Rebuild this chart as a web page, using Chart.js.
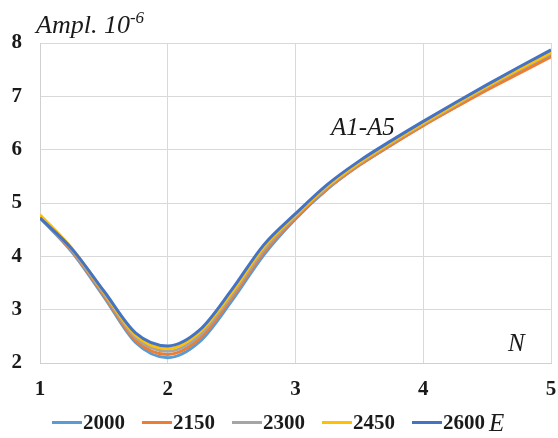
<!DOCTYPE html>
<html>
<head>
<meta charset="utf-8">
<script src="https://cdn.jsdelivr.net/npm/chart.js@4.4.1/dist/chart.umd.min.js"></script>
<style>
body{margin:0;background:#fff;}
#wrap{position:relative;width:558px;height:438px;}
.lbl{position:absolute;font-family:"Liberation Serif","Times New Roman",serif;font-style:italic;color:#1a1a1a;white-space:nowrap;line-height:1;}
#legend{position:absolute;left:52px;top:411px;height:22px;display:flex;align-items:center;
    font-family:"Liberation Serif","Times New Roman",serif;font-weight:bold;font-size:21px;color:#1a1a1a;line-height:1;}
#legend .item{display:flex;align-items:center;margin-right:17px;}
#legend .bar{width:30px;height:3px;margin-right:1px;}
</style>
</head>
<body>
<div id="wrap">
    <canvas id="chart" width="558" height="438"></canvas>
    <span class="lbl" style="left:36px;top:12px;font-size:26px">Ampl. 10<span style="font-size:17px;position:relative;top:-10px">-6</span></span>
    <span class="lbl" style="left:331px;top:114px;font-size:25px">A1-A5</span>
    <span class="lbl" style="left:508px;top:330px;font-size:25px">N</span>
    <div id="legend"></div>
</div>
<script>
// valores
const nValues = [1, 1.25, 1.5, 1.75, 2, 2.25, 2.5, 2.75, 3, 3.25, 3.5, 3.75, 4, 4.25, 4.5, 4.75, 5];
const seriesLabels = ['2000', '2150', '2300', '2450', '2600'];
const e2000 = [4.72, 4.08, 3.24, 2.38, 2.10, 2.40, 3.16, 4.02, 4.70, 5.26, 5.71, 6.09, 6.46, 6.80, 7.14, 7.46, 7.77];
const e2150 = [4.73, 4.10, 3.27, 2.42, 2.16, 2.46, 3.22, 4.07, 4.72, 5.27, 5.71, 6.09, 6.45, 6.79, 7.12, 7.43, 7.74];
const e2300 = [4.74, 4.12, 3.30, 2.47, 2.22, 2.52, 3.27, 4.12, 4.75, 5.30, 5.74, 6.12, 6.48, 6.83, 7.17, 7.49, 7.80];
const e2450 = [4.78, 4.15, 3.33, 2.52, 2.27, 2.58, 3.32, 4.17, 4.77, 5.32, 5.76, 6.14, 6.50, 6.85, 7.19, 7.51, 7.82];
const e2600 = [4.72, 4.14, 3.35, 2.56, 2.32, 2.62, 3.37, 4.21, 4.80, 5.35, 5.79, 6.17, 6.53, 6.88, 7.22, 7.55, 7.87];
const xTicks = [1, 2, 3, 4, 5];
const yTicks = [2, 3, 4, 5, 6, 7, 8];

const allSeries = [e2000, e2150, e2300, e2450, e2600];
const colors = ['#5B9BD5', '#ED7D31', '#A5A5A5', '#FFC000', '#4472C4'];

const datasets = allSeries.map((vals, i) => ({
    label: seriesLabels[i],
    data: vals.map((v, k) => ({x: nValues[k], y: v})),
    borderColor: colors[i],
    backgroundColor: colors[i],
    borderWidth: 3,
    pointRadius: 0,
    cubicInterpolationMode: 'monotone',
    order: allSeries.length - 1 - i
}));

// leyenda
const legend = document.getElementById('legend');
seriesLabels.forEach((lab, i) => {
    const it = document.createElement('div');
    it.className = 'item';
    it.innerHTML = `<span class="bar" style="background:${colors[i]}"></span><span>${lab}</span>`;
    legend.appendChild(it);
});
const e = document.createElement('span');
e.textContent = 'E';
e.style.cssText = 'font-style:italic;font-weight:normal;font-size:25px;margin-left:-13px;';
legend.appendChild(e);

const tickFont = {family: '"Liberation Serif", "Times New Roman", serif', size: 21, weight: 'bold'};

new Chart(document.getElementById('chart'), {
    type: 'line',
    data: {datasets},
    options: {
        responsive: false,
        animation: false,
        layout: {padding: {left: 0, right: 7, top: 43, bottom: 40}},
        plugins: {
            tooltip: {enabled: false},
            legend: {display: false}
        },
        scales: {
            x: {
                type: 'linear',
                min: 1, max: 5,
                afterBuildTicks: s => { s.ticks = xTicks.map(v => ({value: v})); },
                ticks: {font: tickFont, color: '#1a1a1a', padding: 14, maxRotation: 0},
                grid: {color: '#d9d9d9', drawTicks: false},
                border: {color: '#d0d0d0'},
                afterFit: s => { s.height = 35; s.paddingLeft = 0; s.paddingRight = 0; }
            },
            y: {
                min: 2, max: 8,
                afterBuildTicks: s => { s.ticks = yTicks.map(v => ({value: v})); },
                ticks: {font: tickFont, color: '#1a1a1a', padding: 18},
                grid: {color: '#d9d9d9', drawTicks: false},
                border: {color: '#d0d0d0'},
                afterFit: s => { s.width = 40; }
            }
        }
    }
});
</script>
</body>
</html>
